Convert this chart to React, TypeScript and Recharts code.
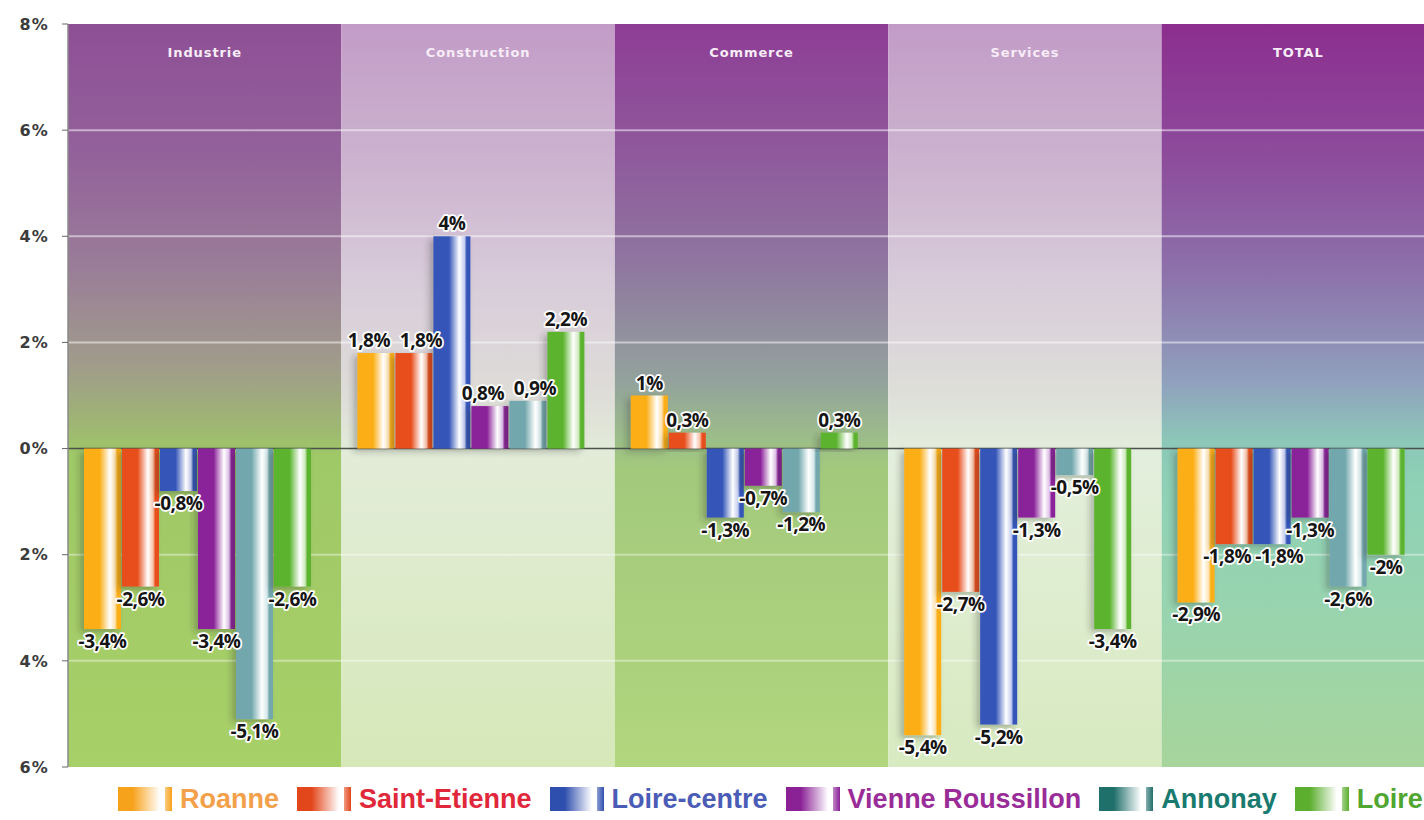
import React from 'react';
import {
  BarChart,
  Bar,
  XAxis,
  YAxis,
  ReferenceArea,
  ReferenceLine,
  LabelList,
  Legend,
} from 'recharts';

// ---------- data ----------
const categories = ['Industrie', 'Construction', 'Commerce', 'Services', 'TOTAL'];
const seriesNames = ['Roanne', 'Saint-Etienne', 'Loire-centre', 'Vienne Roussillon', 'Annonay', 'Loire'];
const roanne = [-3.4, 1.8, 1, -5.4, -2.9];
const saintEtienne = [-2.6, 1.8, 0.3, -2.7, -1.8];
const loireCentre = [-0.8, 4, -1.3, -5.2, -1.8];
const vienneRoussillon = [-3.4, 0.8, -0.7, -1.3, -1.3];
const annonay = [-5.1, 0.9, -1.2, -0.5, -2.6];
const loire = [-2.6, 2.2, 0.3, -3.4, -2];
const yTicks = [-6, -4, -2, 0, 2, 4, 6, 8];
const gridValues = [-4, -2, 2, 4, 6];

const seriesValues = [roanne, saintEtienne, loireCentre, vienneRoussillon, annonay, loire];
const seriesKeys = ['s0', 's1', 's2', 's3', 's4', 's5'];

const data = categories.map((c, i) => {
  const row: Record<string, any> = { category: c };
  seriesKeys.forEach((k, j) => {
    row[k] = seriesValues[j][i];
  });
  return row;
});

// ---------- styles ----------
const barColors = ['#FBAE16', '#E84E1C', '#3456B8', '#8A2099', '#72A8AD', '#5BB42F'];
const barTints = ['#FDE3B0', '#F8C2A8', '#C6CDF0', '#E3C3EC', '#D6E8EA', '#CFEBBE'];
const legendSwatch = ['#F7A21B', '#E2471C', '#2F4FAE', '#8A2296', '#1F6F6B', '#5BAE2E'];
const legendText = ['#F2A04A', '#E0283A', '#4A5CB6', '#9A2C98', '#197A6F', '#4FA631'];

// vertical background gradients per band (top = 8%, bottom = -6%, zero at 0.571)
const bandStops: [number, string][][] = [
  [[0, '#8E4F95'], [0.18, '#93629B'], [0.33, '#9A7E98'], [0.46, '#A09C8A'], [0.54, '#9EB673'], [0.58, '#9FC867'], [1, '#A8D068']],
  [[0, '#C29CC7'], [0.2, '#CDB5D0'], [0.35, '#D8CCDA'], [0.5, '#DEDDD8'], [0.58, '#E2ECD8'], [0.75, '#DDEBCB'], [1, '#D6E8B8']],
  [[0, '#8E3D95'], [0.18, '#8F5A9C'], [0.33, '#8F78A0'], [0.48, '#93A29C'], [0.56, '#9CBE88'], [0.6, '#A3C97C'], [1, '#B1D67E']],
  [[0, '#C29CC7'], [0.2, '#CDB5D0'], [0.35, '#D8CCDA'], [0.5, '#DEDFD9'], [0.58, '#E3EFDD'], [0.75, '#DFEDD0'], [1, '#D7EAC0']],
  [[0, '#8C2E8F'], [0.18, '#8D4C9C'], [0.33, '#8D70AA'], [0.48, '#90A0BD'], [0.56, '#8CC7B8'], [0.62, '#8ED1B6'], [0.8, '#99D4AE'], [1, '#A7D59B']],
];

const SHIFT = 7;
const LABEL_PUSH = 7;

const fmt = (v: number) => `${String(v).replace('.', ',')}%`;

const makeShape = (i: number) => (p: any) => {
  const x = Number(p.x);
  const y = Number(p.y);
  const h = Number(p.height);
  const w = Number(p.width);
  if (!isFinite(x) || !isFinite(y) || !isFinite(h)) return null;
  const top = Math.min(y, y + h);
  const height = Math.abs(h);
  return (
    <rect
      x={x - SHIFT}
      y={top}
      width={w}
      height={height}
      fill={`url(#barGrad${i})`}
      filter="url(#barShadow)"
    />
  );
};

// labels of neighbouring bars at nearly the same height are pushed apart
const collides = (a: number, b: number | undefined) =>
  b !== undefined && Math.sign(a) === Math.sign(b) && Math.abs(a - b) < 0.35;

const makeLabel = (i: number) => (p: any) => {
  const vb = p.viewBox || {};
  const x = Number(p.x ?? vb.x);
  const y = Number(p.y ?? vb.y);
  const w = Number(p.width ?? vb.width);
  const h = Number(p.height ?? vb.height);
  const v = Number(p.value);
  const idx = Number(p.index);
  if (!isFinite(x) || !isFinite(y) || !isFinite(v)) return null;
  const top = Math.min(y, y + h);
  const bottom = Math.max(y, y + h);
  let dx = 0;
  if (isFinite(idx)) {
    const left = i > 0 ? seriesValues[i - 1][idx] : undefined;
    const right = i < seriesValues.length - 1 ? seriesValues[i + 1][idx] : undefined;
    if (collides(v, left)) dx += LABEL_PUSH;
    if (collides(v, right)) dx -= LABEL_PUSH;
  }
  const cx = x + w / 2 - SHIFT + dx;
  const ty = v >= 0 ? top - 6 : bottom + 19;
  return (
    <text
      x={cx}
      y={ty}
      textAnchor="middle"
      fontFamily="'Open Sans', sans-serif"
      fontWeight={700}
      fontSize={19}
      letterSpacing={-0.5}
      fill="#151515"
      stroke="#ffffff"
      strokeWidth={3.5}
      strokeLinejoin="round"
      paintOrder="stroke"
    >
      {fmt(v)}
    </text>
  );
};

const HeaderLabel = (props: any) => {
  const vb = props.viewBox || {};
  return (
    <text
      x={vb.x + vb.width / 2}
      y={vb.y + 33}
      textAnchor="middle"
      fontFamily="'DejaVu Sans', Verdana, sans-serif"
      fontWeight={700}
      fontSize={13}
      letterSpacing={0.9}
      fill="#F7ECF7"
    >
      {props.value}
    </text>
  );
};

const renderLegend = () => (
  <div
    style={{
      height: 46,
      boxSizing: 'border-box',
      paddingTop: 18,
      paddingLeft: 118,
      display: 'flex',
      alignItems: 'center',
      whiteSpace: 'nowrap',
    }}
  >
    {seriesNames.map((name, i) => (
      <div key={name} style={{ display: 'flex', alignItems: 'center', marginRight: 18, height: 28 }}>
        <svg width={56} height={26} style={{ display: 'block' }}>
          <defs>
            <linearGradient id={`lg${i}`} x1="0" y1="0" x2="1" y2="0">
              <stop offset="0" stopColor={legendSwatch[i]} />
              <stop offset="0.35" stopColor={legendSwatch[i]} />
              <stop offset="1" stopColor="#ffffff" />
            </linearGradient>
            <linearGradient id={`lgb${i}`} x1="0" y1="0" x2="1" y2="0">
              <stop offset="0" stopColor={legendSwatch[i]} stopOpacity={0.55} />
              <stop offset="1" stopColor={legendSwatch[i]} />
            </linearGradient>
          </defs>
          <rect x={0} y={1} width={42} height={24} fill={`url(#lg${i})`} />
          <rect x={47} y={1} width={7} height={24} fill={`url(#lgb${i})`} />
        </svg>
        <span
          style={{
            marginLeft: 6,
            fontFamily: "'Liberation Sans', Arial, sans-serif",
            fontWeight: 700,
            fontSize: 27,
            lineHeight: '28px',
            color: legendText[i],
          }}
        >
          {name}
        </span>
      </div>
    ))}
  </div>
);

export default function App() {
  return (
    <div
      style={{
        position: 'absolute',
        left: 0,
        top: 0,
        width: 1424,
        height: 820,
        overflow: 'hidden',
        background: '#ffffff',
      }}
    >
      <BarChart
        width={1440}
        height={820}
        data={data}
        margin={{ top: 24, right: 5, bottom: 7, left: 0 }}
        barSize={37}
        barGap={1}
      >
        <defs>
          {bandStops.map((stops, k) => (
            <linearGradient key={k} id={`bandGrad${k}`} x1="0" y1="0" x2="0" y2="1">
              {stops.map(([o, c], j) => (
                <stop key={j} offset={o} stopColor={c} />
              ))}
            </linearGradient>
          ))}
          {barColors.map((c, i) => (
            <linearGradient key={i} id={`barGrad${i}`} x1="0" y1="0" x2="1" y2="0">
              <stop offset="0" stopColor={c} />
              <stop offset="0.42" stopColor={c} />
              <stop offset="0.7" stopColor="#ffffff" />
              <stop offset="0.84" stopColor={barTints[i]} />
              <stop offset="0.9" stopColor={c} />
              <stop offset="1" stopColor={c} />
            </linearGradient>
          ))}
          <filter id="barShadow" x="-40%" y="-10%" width="160%" height="130%">
            <feDropShadow dx={-4} dy={3} stdDeviation={3} floodColor="#2a2a2a" floodOpacity={0.3} />
          </filter>
        </defs>

        {categories.map((c, k) => (
          <ReferenceArea
            key={c}
            x1={c}
            x2={c}
            y1={-6}
            y2={8}
            fill={`url(#bandGrad${k})`}
            fillOpacity={1}
            stroke="none"
            zIndex={-300}
            label={{ value: c, position: 'insideTop', content: <HeaderLabel value={c} /> }}
          />
        ))}

        {gridValues.map((g) => (
          <ReferenceLine
            key={g}
            y={g}
            stroke="#ffffff"
            strokeOpacity={g > 0 ? 0.5 : 0.4}
            strokeWidth={2}
            zIndex={-200}
          />
        ))}
        <ReferenceLine y={0} stroke="#4b514b" strokeWidth={1.5} zIndex={-150} />

        <XAxis dataKey="category" hide />
        <YAxis
          domain={[-6, 8]}
          ticks={yTicks}
          interval={0}
          width={68}
          tickSize={6}
          tickMargin={13}
          axisLine={{ stroke: '#8a8a8a', strokeWidth: 1.5 }}
          tickLine={{ stroke: '#666666' }}
          tickFormatter={(v: number) => `${Math.abs(v)}%`}
          tick={{
            fill: '#3c3c3c',
            fontSize: 16,
            fontWeight: 700,
            letterSpacing: 1.2,
            fontFamily: "'DejaVu Sans', sans-serif",
          }}
        />

        {seriesKeys.map((k, i) => (
          <Bar
            key={k}
            dataKey={k}
            name={seriesNames[i]}
            fill={barColors[i]}
            isAnimationActive={false}
            shape={makeShape(i)}
          >
            <LabelList dataKey={k} content={makeLabel(i)} />
          </Bar>
        ))}

        <Legend verticalAlign="bottom" align="left" content={renderLegend} />
      </BarChart>
    </div>
  );
}
